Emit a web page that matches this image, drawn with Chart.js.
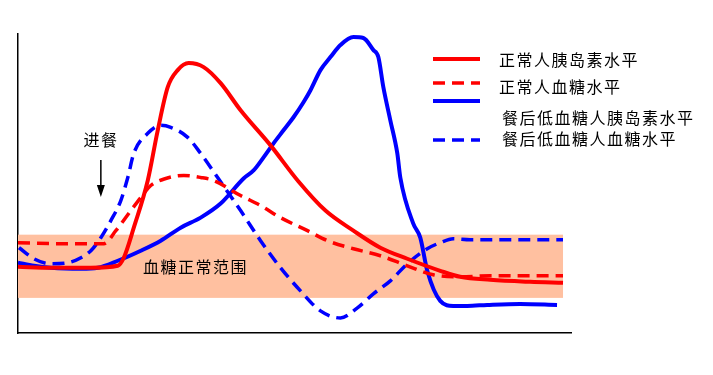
<!DOCTYPE html>
<html>
<head>
<meta charset="utf-8">
<script src="https://cdn.jsdelivr.net/npm/chart.js@4.4.0/dist/chart.umd.min.js"></script>
<style>
  html, body { margin: 0; padding: 0; background: #fff; }
  #wrap { width: 713px; height: 375px; }
</style>
</head>
<body>
<div id="wrap"><canvas id="lineChart"></canvas></div>
<script>
// readings: x = time after start, y = level (same arbitrary units)
var seriesNames = ['正常人胰岛素水平', '正常人血糖水平', '餐后低血糖人胰岛素水平', '餐后低血糖人血糖水平'];

var normalInsulin = [[0,66],[33,65],[73,65],[100,67],[106,75],[116,105],[130,152],[140,202],[150,245],[160,262],[171,269],[186,265],[203,249],[223,222],[253,187],[281,151],[308,122],[336,102],[363,85],[390,74],[423,62],[443,56],[473,53],[513,51],[546,50]];
var normalGlucose = [[0,90],[43,89],[86,89],[98,102],[113,122],[123,135],[133,147],[148,154],[166,157],[183,155],[196,152],[223,137],[243,127],[263,115],[290,102],[310,92],[336,84],[363,77],[390,67],[416,58],[443,56],[473,57],[546,57]];
var hypoInsulin = [[0,70],[16,67],[33,65],[63,64],[80,65],[100,72],[123,82],[143,92],[163,105],[183,115],[203,129],[226,154],[236,162],[246,175],[256,189],[266,202],[276,215],[286,230],[293,242],[303,262],[313,275],[323,287],[336,295],[346,294],[356,282],[361,275],[366,245],[373,212],[380,179],[383,155],[396,109],[403,95],[410,62],[423,32],[436,27],[450,27],[470,28],[503,29],[540,28]];
var hypoGlucose = [[1,85],[16,74],[33,69],[50,70],[63,75],[73,82],[83,95],[93,112],[103,132],[110,155],[116,179],[130,199],[143,207],[153,205],[170,195],[183,179],[200,155],[223,122],[243,92],[263,65],[283,42],[303,22],[323,15],[340,25],[356,39],[373,52],[390,69],[410,84],[423,90],[436,94],[453,93],[546,93]];

// normal blood glucose range (y) and its extent along x
var normalRange = [35, 98];
var rangeX = [0, 546];
var rangeLabel = '血糖正常范围';
var mealLabel = '进餐';
var mealX = 83;

function toPoints(arr) {
    return arr.map(function (p) { return { x: p[0], y: p[1] }; });
}

var cjkFont = '16px "Noto Sans CJK SC", "Noto Sans", sans-serif';

// shaded band plus the two text notes
var notesPlugin = {
    id: 'notes',
    beforeDatasetsDraw: function (chart) {
        var c = chart.ctx, xs = chart.scales.x, ys = chart.scales.y;
        var x0 = xs.getPixelForValue(rangeX[0]), x1 = xs.getPixelForValue(rangeX[1]);
        var yTop = ys.getPixelForValue(normalRange[1]), yBot = ys.getPixelForValue(normalRange[0]);
        c.save();
        c.fillStyle = '#ffc0a0';
        c.fillRect(x0, yTop, x1 - x0, yBot - yTop);
        c.fillStyle = '#000';
        c.font = cjkFont;
        c.letterSpacing = '1.5px';
        c.textBaseline = 'middle';
        c.textAlign = 'left';
        c.fillText(rangeLabel, 143, 267);
        c.textAlign = 'center';
        c.fillText(mealLabel, 101, 140);
        // arrow
        var ax = xs.getPixelForValue(mealX);
        c.strokeStyle = '#000';
        c.lineWidth = 1.5;
        c.beginPath();
        c.moveTo(ax, 160);
        c.lineTo(ax, 192);
        c.stroke();
        c.beginPath();
        c.moveTo(ax - 4, 185);
        c.lineTo(ax + 4, 185);
        c.lineTo(ax, 197);
        c.closePath();
        c.fill();
        c.restore();
    },
    afterDraw: function (chart) {
        var c = chart.ctx;
        var lineY = [59, 83, 101, 140];
        var textY = [60, 87, 118, 139];
        c.save();
        chart.data.datasets.forEach(function (ds, i) {
            c.strokeStyle = ds.borderColor;
            c.lineWidth = ds.borderWidth;
            c.setLineDash(ds.borderDash || []);
            c.beginPath();
            c.moveTo(433, lineY[i]);
            c.lineTo(480, lineY[i]);
            c.stroke();
            c.setLineDash([]);
            c.fillStyle = '#000';
            c.font = cjkFont;
            c.letterSpacing = '1.5px';
            c.textBaseline = 'middle';
            c.textAlign = 'left';
            c.fillText(ds.label, i < 2 ? 499 : 502, textY[i]);
        });
        c.restore();
    }
};

var ctx = document.getElementById('lineChart').getContext('2d');
var lineChart = new Chart(ctx, {
    type: 'line',
    data: {
        datasets: [
            { label: seriesNames[0], data: toPoints(normalInsulin), borderColor: '#ff0000', borderWidth: 4 },
            { label: seriesNames[1], data: toPoints(normalGlucose), borderColor: '#ff0000', borderWidth: 3.5, borderDash: [12, 7] },
            { label: seriesNames[2], data: toPoints(hypoInsulin), borderColor: '#0000ff', borderWidth: 4 },
            { label: seriesNames[3], data: toPoints(hypoGlucose), borderColor: '#0000ff', borderWidth: 3.5, borderDash: [12, 7] }
        ]
    },
    options: {
        responsive: true,
        maintainAspectRatio: false,
        animation: false,
        devicePixelRatio: 1,
        layout: { padding: { left: 10, top: 34, right: 142, bottom: 34 } },
        elements: {
            point: { radius: 0 },
            line: { tension: 0.4, cubicInterpolationMode: 'monotone', fill: false }
        },
        plugins: {
            legend: { display: false },
            tooltip: { enabled: false }
        },
        scales: {
            x: {
                type: 'linear',
                min: 0,
                max: 554,
                grid: { display: false },
                ticks: { display: false },
                border: { display: true, color: '#000', width: 1.5 }
            },
            y: {
                min: 0,
                max: 298,
                grid: { display: false },
                ticks: { display: false },
                border: { display: true, color: '#000', width: 1.5 }
            }
        }
    },
    plugins: [notesPlugin]
});
</script>
</body>
</html>
